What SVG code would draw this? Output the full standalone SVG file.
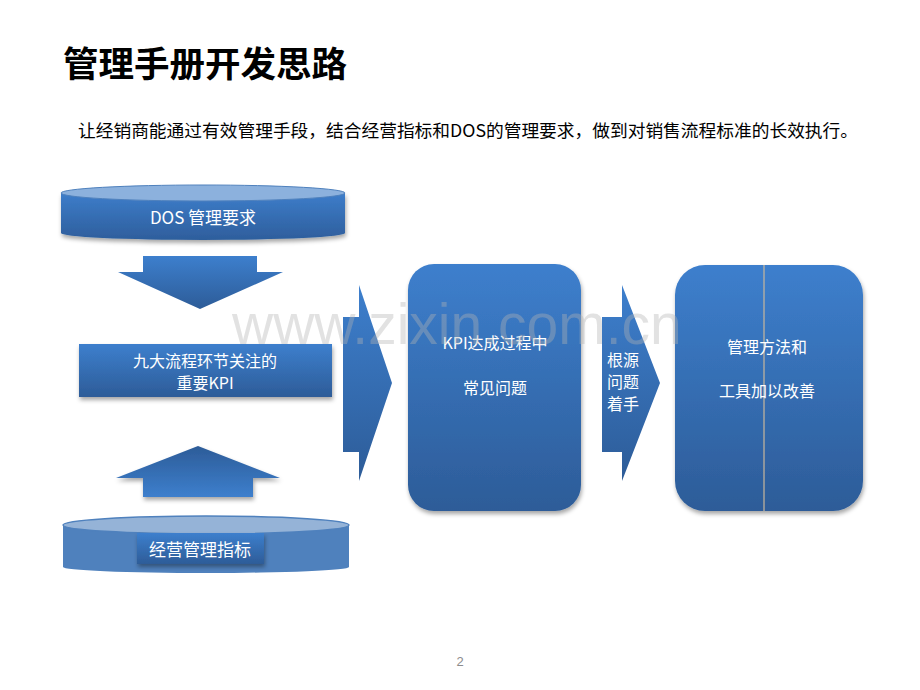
<svg xmlns="http://www.w3.org/2000/svg" width="920" height="690" viewBox="0 0 920 690">
<style>
.t{font-family:"Noto Sans CJK SC","Noto Sans",sans-serif;fill:#fff;text-anchor:middle}
.w{font-family:"Liberation Sans",Arial,sans-serif;fill:#b4b4b4;opacity:0.38}
</style>
<defs>
<linearGradient id="gDown" x1="0" y1="0" x2="0" y2="1"><stop offset="0" stop-color="#3d7fcd"/><stop offset="1" stop-color="#2d5c98"/></linearGradient>
<linearGradient id="gUp" x1="0" y1="0" x2="0" y2="1"><stop offset="0" stop-color="#2d5c98"/><stop offset="1" stop-color="#3d7fcd"/></linearGradient>
<linearGradient id="gCyl" x1="0" y1="0" x2="0" y2="1"><stop offset="0" stop-color="#3d7dca"/><stop offset="1" stop-color="#2e5e9c"/></linearGradient>
<filter id="sh" x="-10%" y="-10%" width="120%" height="130%"><feDropShadow dx="1" dy="3" stdDeviation="2" flood-color="#000" flood-opacity="0.35"/></filter>
</defs>
<rect width="920" height="690" fill="#fff"/>
<text x="63" y="77" font-family="'Noto Sans CJK SC',sans-serif" font-weight="bold" font-size="35.5" fill="#000">管理手册开发思路</text>
<text x="78" y="137" font-family="'Noto Sans CJK SC',sans-serif" font-size="17.5" fill="#000" textLength="780" lengthAdjust="spacingAndGlyphs">让经销商能通过有效管理手段，结合经营指标和DOS的管理要求，做到对销售流程标准的长效执行。</text>

<g id="dos">
<path d="M61,193 L61,233 A142,7 0 0 0 345,233 L345,193 Z" fill="url(#gCyl)" filter="url(#sh)"/>
<ellipse cx="203" cy="193" rx="142" ry="8" fill="#8cb1dd" stroke="#4f81bd" stroke-width="1"/>
<text class="t" x="203" y="224" font-size="17">DOS 管理要求</text>
</g>

<g id="kpi9">
<rect x="79" y="344" width="253" height="53" fill="url(#gDown)" filter="url(#sh)"/>
<text class="t" x="205" y="367" font-size="16">九大流程环节关注的</text>
<text class="t" x="205" y="389" font-size="16">重要KPI</text>
</g>

<g id="ops">
<path d="M63,525 L63,567 A143,6 0 0 0 349,567 L349,525 Z" fill="#4f81bd"/>
<ellipse cx="206" cy="525" rx="143" ry="9" fill="#95b3d7" stroke="#4f81bd" stroke-width="1.5"/>
<rect x="137" y="533" width="127" height="31" fill="url(#gDown)" filter="url(#sh)"/>
<text class="t" x="200" y="556" font-size="17">经营管理指标</text>
</g>

<g id="issues">
<rect x="408" y="264" width="173" height="247" rx="26" fill="url(#gDown)" filter="url(#sh)"/>
<text class="t" x="495" y="349" font-size="16">KPI达成过程中</text>
<text class="t" x="495" y="394" font-size="16">常见问题</text>
</g>

<g id="improve">
<rect x="675" y="265" width="188" height="246" rx="30" fill="url(#gDown)" filter="url(#sh)"/>
<line x1="764" y1="265" x2="764" y2="511" stroke="#c9b89c" stroke-width="1.2"/>
<text class="t" x="767" y="353" font-size="16">管理方法和</text>
<text class="t" x="767" y="397" font-size="16">工具加以改善</text>
</g>

<g id="connectors">
<path d="M143,256 L257,256 L257,272 L283,272 L200,309 L118,272 L143,272 Z" fill="url(#gDown)"/>
<path d="M198,446 L280,478 L253,478 L253,497 L143,497 L143,478 L116,478 Z" fill="url(#gUp)" filter="url(#sh)"/>
<path d="M343,317 L359,317 L359,285 L392,383 L359,481 L359,452 L343,452 Z" fill="url(#gDown)"/>
<path d="M602,317 L622,317 L622,285 L660,383 L622,481 L622,452 L602,452 Z" fill="url(#gDown)"/>
<text class="t" x="623" y="366" font-size="16">根源</text>
<text class="t" x="623" y="388" font-size="16">问题</text>
<text class="t" x="623" y="410" font-size="16">着手</text>
</g>

<text class="w" x="232" y="344" font-size="57">www.zixin.com.cn</text>
<text x="460" y="666" font-family="'Liberation Sans',sans-serif" font-size="13" fill="#8c8c8c" text-anchor="middle">2</text>
</svg>
